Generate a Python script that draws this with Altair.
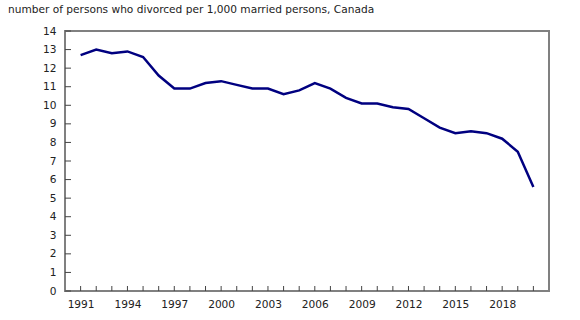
import altair as alt
import pandas as pd

years = list(range(1991, 2021))
rates = [12.7, 13.0, 12.8, 12.9, 12.6, 11.6, 10.9, 10.9, 11.2, 11.3,
         11.1, 10.9, 10.9, 10.6, 10.8, 11.2, 10.9, 10.4, 10.1, 10.1,
         9.9, 9.8, 9.3, 8.8, 8.5, 8.6, 8.5, 8.2, 7.5, 5.6]
y_ticks = list(range(0, 15))
x_labels = list(range(1991, 2021, 3))
title_text = "number of persons who divorced per 1,000 married persons, Canada"

df = pd.DataFrame({"year": years, "rate": rates})
ydf = pd.DataFrame({"v": y_ticks})
xdf = pd.DataFrame({"year": years})

FONT = "DejaVu Sans"
FS = 10.6
xscale = alt.Scale(domain=[1990, 2021], nice=False, zero=False)
yscale = alt.Scale(domain=[0, 14], nice=False)
xaxis = alt.Axis(values=x_labels, format="d", title=None, ticks=False,
                 domain=False, grid=False, labelPadding=8, labelOverlap=False,
                 labelFontSize=FS, labelFont=FONT, labelColor="#222222")
yaxis = alt.Axis(values=y_ticks, format="d", title=None, ticks=False,
                 domain=False, labelOverlap=False, grid=False, labelPadding=9,
                 labelFontSize=FS, labelFont=FONT, labelColor="#222222")

line = alt.Chart(df).mark_line(color="#000080", strokeWidth=2.5).encode(
    x=alt.X("year:Q", scale=xscale, axis=xaxis),
    y=alt.Y("rate:Q", scale=yscale, axis=yaxis),
)

yt = alt.Chart(ydf).mark_rule(color="#444444", strokeWidth=1).encode(
    y=alt.Y("v:Q", scale=yscale, axis=yaxis), x=alt.value(0), x2=alt.value(6)
)
xt = alt.Chart(xdf).mark_rule(color="#444444", strokeWidth=1).encode(
    x=alt.X("year:Q", scale=xscale, axis=xaxis), y=alt.value(260), y2=alt.value(255)
)

tdf = pd.DataFrame({"t": [title_text]})
title = alt.Chart(tdf).mark_text(align="left", baseline="middle", fontSize=FS,
                                 font=FONT, color="#222222").encode(
    text="t:N", x=alt.value(-57), y=alt.value(-21)
)

chart = alt.layer(line, yt, xt, title).properties(
    width=484, height=260,
    autosize=alt.AutoSizeParams(type="none"),
    padding={"left": 65, "top": 31, "right": 31, "bottom": 29},
    background="white",
).configure_view(stroke="#808080", strokeWidth=2)

chart.save("out.html", embed_options={"renderer": "svg", "actions": False})
